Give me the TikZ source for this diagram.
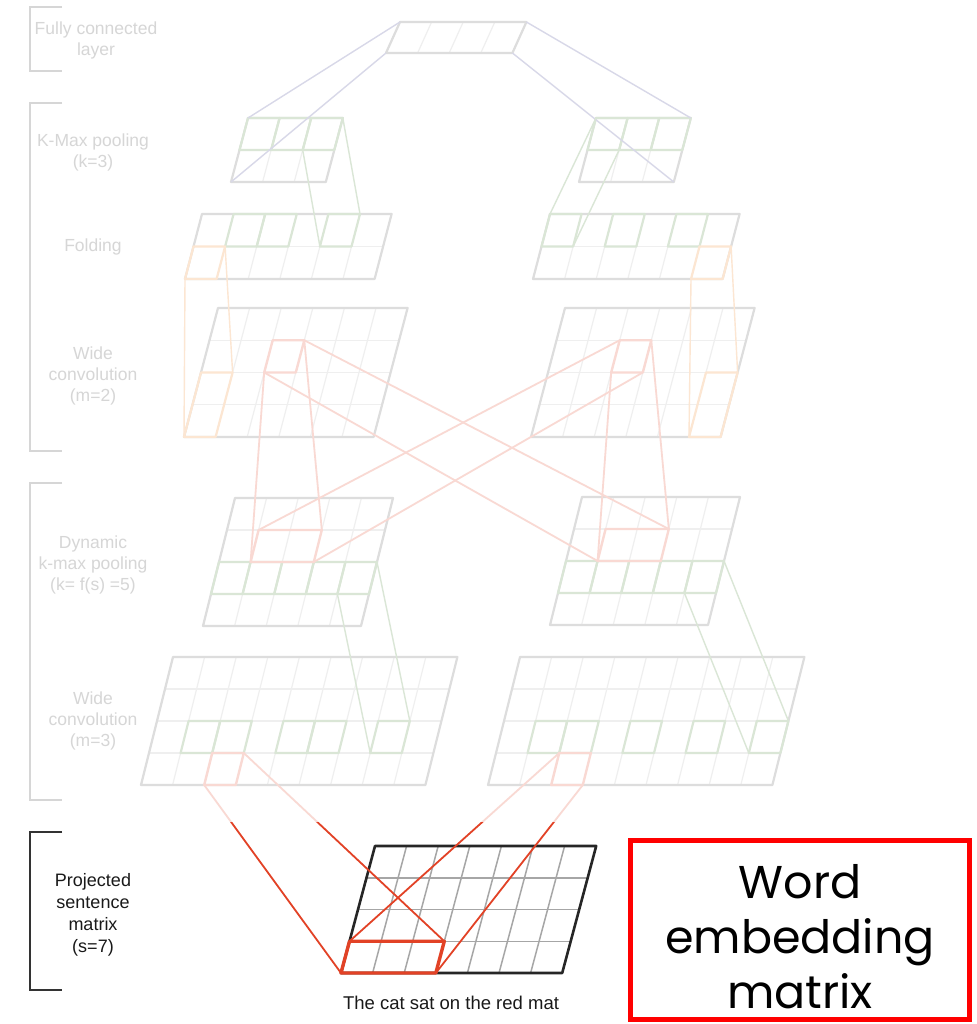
\documentclass[tikz,border=0pt]{standalone}
\usepackage{fontspec}
\setmainfont{Liberation Sans}
\newfontfamily\gothic{Poppins}
\usepackage{tikz}
\usetikzlibrary{positioning}
\usepackage{xcolor}

\definecolor{boxgray}{RGB}{85,85,85}
\definecolor{gridgray}{RGB}{175,175,175}
\definecolor{kgreen}{RGB}{70,130,50}
\definecolor{korange}{RGB}{240,130,30}
\definecolor{kred}{RGB}{226,66,38}
\definecolor{fcblue}{RGB}{60,60,140}
\definecolor{labelgray}{RGB}{50,50,50}

\newcommand{\cellw}{31.6}
% skewed grid: name, x, y, cols, rows, row height, shift per row
\newcommand{\sgrid}[7]{%
  \foreach \i in {0,...,#4}{\foreach \j in {0,...,#5}{
    \coordinate (#1-\i-\j) at ({#2+\i*\cellw-\j*#7},{#3+\j*#6});}}
  \foreach \i in {0,...,#4} \draw[gridline] (#1-\i-0) -- (#1-\i-#5);
  \foreach \j in {0,...,#5} \draw[gridline] (#1-0-\j) -- (#1-#4-\j);
  \draw[boxline] (#1-0-0) -- (#1-#4-0) -- (#1-#4-#5) -- (#1-0-#5) -- cycle;}
% block of cells: style, grid, i1, j1, i2, j2
\newcommand{\hlblock}[6]{%
  \draw[#1] (#2-#3-#4) -- (#2-#5-#4) -- (#2-#5-#6) -- (#2-#3-#6) -- cycle;}

\begin{document}
\begin{tikzpicture}[x=1pt,y=-1pt,
  gridline/.style={draw=gridgray,line width=1.2pt},
  boxline/.style={draw=boxgray,line width=2.2pt,line join=round},
  greencell/.style={draw=kgreen,line width=2.2pt,line join=round},
  orangecell/.style={draw=korange,line width=2.2pt,line join=round},
  redcell/.style={draw=kred,line width=2.4pt,line join=round},
  fcline/.style={draw=fcblue,line width=1.4pt},
  greenline/.style={draw=kgreen,line width=1.4pt},
  orangeline/.style={draw=korange,line width=1.4pt},
  redline/.style={draw=kred,line width=1.8pt},
  lbl/.style={align=center,text=labelgray,font=\fontsize{17.5}{21}\selectfont},
  bracket/.style={draw=labelgray,line width=2pt}]
  \fill[white] (0,0) rectangle (976,1024);
  \useasboundingbox (0,0) rectangle (976,1024);

  % layers
  \sgrid{fc}{400}{22}{4}{1}{31}{14}
  \sgrid{kmL}{248}{118}{3}{2}{32}{8.5}
  \sgrid{kmR}{596}{118}{3}{2}{32}{8.5}
  \sgrid{foldL}{202}{214}{6}{2}{32.5}{8.5}
  \sgrid{foldR}{550}{214}{6}{2}{32.5}{8.5}
  \sgrid{convLa}{218}{308}{6}{4}{32.25}{8.5}
  \sgrid{convRa}{565}{308}{6}{4}{32.25}{8.5}
  \sgrid{poolL}{235}{498}{5}{4}{32}{8}
  \sgrid{poolR}{582}{497}{5}{4}{32}{8}
  \sgrid{convLb}{173}{657}{9}{4}{32}{8}
  \sgrid{convRb}{520}{657}{9}{4}{32}{8}
  \begin{scope}[gridline/.style={draw=black!35,line width=1.5pt},
                boxline/.style={draw=black!85,line width=2.6pt,line join=round}]
    \sgrid{proj}{375}{846}{7}{4}{31.75}{8.5}
  \end{scope}

  % selected cells
  \foreach \i/\ii in {0/1,1/2,2/3} {
    \hlblock{greencell}{kmL}{\i}{0}{\ii}{1}
    \hlblock{greencell}{kmR}{\i}{0}{\ii}{1}}
  \foreach \i/\ii in {1/2,2/3,4/5} \hlblock{greencell}{foldL}{\i}{0}{\ii}{1};
  \foreach \i/\ii in {0/1,2/3,4/5} \hlblock{greencell}{foldR}{\i}{0}{\ii}{1};
  \hlblock{orangecell}{foldL}{0}{1}{1}{2}
  \hlblock{orangecell}{foldR}{5}{1}{6}{2}
  \hlblock{orangecell}{convLa}{0}{2}{1}{4}
  \hlblock{orangecell}{convRa}{5}{2}{6}{4}
  \hlblock{redcell}{convLa}{2}{1}{3}{2}
  \hlblock{redcell}{convRa}{2}{1}{3}{2}
  \foreach \i/\ii in {0/1,1/2,2/3,3/4,4/5} {
    \hlblock{greencell}{poolL}{\i}{2}{\ii}{3}
    \hlblock{greencell}{poolR}{\i}{2}{\ii}{3}}
  \hlblock{redcell}{poolL}{1}{1}{3}{2}
  \hlblock{redcell}{poolR}{1}{1}{3}{2}
  \foreach \i/\ii in {1/2,2/3,4/5,5/6,7/8} \hlblock{greencell}{convLb}{\i}{2}{\ii}{3};
  \foreach \i/\ii in {1/2,2/3,4/5,6/7,8/9} \hlblock{greencell}{convRb}{\i}{2}{\ii}{3};
  \hlblock{redcell}{convLb}{2}{3}{3}{4}
  \hlblock{redcell}{convRb}{2}{3}{3}{4}
  \hlblock{redcell,line width=3.4pt}{proj}{0}{3}{3}{4}

  % connections
  \draw[fcline] (fc-0-0) -- (kmL-0-0);
  \draw[fcline] (fc-0-1) -- (kmL-0-2);
  \draw[fcline] (fc-4-0) -- (kmR-3-0);
  \draw[fcline] (fc-4-1) -- (kmR-3-2);
  \draw[greenline] (kmL-3-0) -- (foldL-5-0);
  \draw[greenline] (kmL-2-1) -- (foldL-4-1);
  \draw[greenline] (kmR-0-0) -- (foldR-0-0);
  \draw[greenline] (kmR-1-1) -- (foldR-1-1);
  \draw[orangeline] (foldL-0-2) -- (convLa-0-4);
  \draw[orangeline] (foldL-1-1) -- (convLa-1-2);
  \draw[orangeline] (foldR-5-2) -- (convRa-5-4);
  \draw[orangeline] (foldR-6-1) -- (convRa-6-2);
  \draw[redline] (convLa-3-1) -- (poolL-3-1);
  \draw[redline] (convLa-2-2) -- (poolL-1-2);
  \draw[redline] (convLa-3-1) -- (poolR-3-1);
  \draw[redline] (convLa-2-2) -- (poolR-1-2);
  \draw[redline] (convRa-2-1) -- (poolL-1-1);
  \draw[redline] (convRa-3-2) -- (poolL-3-2);
  \draw[redline] (convRa-2-2) -- (poolR-1-2);
  \draw[redline] (convRa-3-1) -- (poolR-3-1);
  \draw[greenline] (poolL-5-2) -- (convLb-8-2);
  \draw[greenline] (poolL-4-3) -- (convLb-7-3);
  \draw[greenline] (poolR-5-2) -- (convRb-9-2);
  \draw[greenline] (poolR-4-3) -- (convRb-8-3);
  \draw[redline] (convLb-2-4) -- (proj-0-4);
  \draw[redline] (convLb-3-3) -- (proj-3-3);
  \draw[redline] (convRb-2-3) -- (proj-0-3);
  \draw[redline] (convRb-3-4) -- (proj-3-4);

  % layer names
  \draw[bracket] (62,7) -- (30,7) -- (30,71) -- (62,71);
  \draw[bracket] (62,103) -- (30,103) -- (30,451) -- (62,451);
  \draw[bracket] (62,483) -- (30,483) -- (30,800) -- (62,800);
  \node[lbl] (lfc) at (96,40) {Fully connected\\layer};
  \node[lbl] (lkmax) at (93,152) {K-Max pooling\\(k=3)};
  \node[lbl] (lfold) at (93,247) {Folding};
  \node[lbl] (lconva) at (93,376) {Wide\\convolution\\(m=2)};
  \node[lbl] (ldyn) at (93,565) {Dynamic\\k-max pooling\\(k= f(s) =5)};
  \node[lbl] (lconvb) at (93,721) {Wide\\convolution\\(m=3)};

  % fade of the upper part
  \fill[white,fill opacity=0.8] (0,0) rectangle (976,822);

  \draw[bracket,draw=black!80] (62,832) -- (30,832) -- (30,990) -- (62,990);
  \node[lbl,text=black!90,font=\fontsize{18}{22}\selectfont] (lproj) at (93,915)
    {Projected\\sentence\\matrix\\(s=7)};
  \node[font=\fontsize{18.5}{22}\selectfont,text=black!90] (sent) at (451,1003) {The cat sat on the red mat};
  \node[draw=red,line width=5pt,minimum width=339pt,minimum height=179pt] (emb) at (800,930) {};
  \node[align=center,inner sep=0pt,font=\gothic\fontsize{46}{55}\selectfont] (embtext) at ([yshift=-7pt]emb.center)
    {Word\\embedding\\matrix};
\end{tikzpicture}
\end{document}
